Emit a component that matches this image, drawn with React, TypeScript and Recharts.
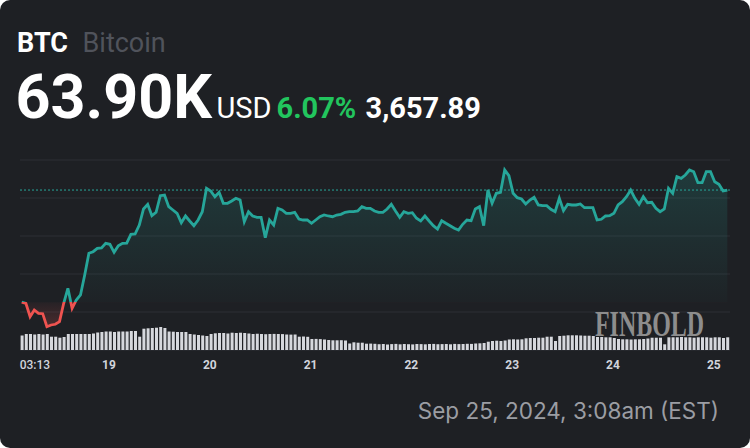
import { ComposedChart, Area, Bar, XAxis, YAxis, CartesianGrid, ReferenceLine } from 'recharts';

// hourly BTC/USD, Sep 18 03:13 -> Sep 25 03:08
const prices = [
  60242, 60204, 59767, 59985, 59878, 59865, 59441, 59496, 59519, 59604,
  60204, 60694, 60041, 60312, 60475, 61128, 61836, 61888, 61999, 62010,
  62162, 62129, 61868, 62084, 62162, 62170, 62456, 62465, 62759, 63281,
  63434, 63063, 63173, 63715, 63738, 63356, 63248, 63141, 62834, 63053,
  62890, 62736, 62922, 63193, 63957, 63868, 63682, 63826, 63467, 63467,
  63542, 63630, 63575, 62867, 63193, 63053, 63010, 63010, 62345, 62922,
  62759, 63304, 63248, 63141, 63141, 63173, 62955, 62922, 62922, 62814,
  62922, 63030, 63085, 63053, 63030, 63085, 63108, 63173, 63193, 63193,
  63216, 63356, 63304, 63304, 63216, 63173, 63173, 63281, 63434, 63216,
  63010, 63193, 63141, 63160, 62978, 62890, 63053, 62890, 62736, 62629,
  62899, 62814, 62736, 62651, 62596, 62782, 62922, 62899, 63281, 63356,
  62736, 63901, 63467, 63793, 63826, 64554, 64368, 63793, 63650, 63607,
  63444, 63575, 63663, 63412, 63389, 63389, 63271, 63193, 63630, 63226,
  63434, 63412, 63412, 63444, 63324, 63324, 63324, 62922, 62945, 63053,
  63063, 63141, 63412, 63519, 63682, 63901, 63630, 63434, 63682, 63487,
  63500, 63304, 63193, 63281, 63957, 63793, 64335, 64283, 64391, 64554,
  64498, 64139, 64139, 64498, 64498, 64172, 64087, 63868, 63900,
];

const volumes = [
  580, 640, 640, 620, 640, 620, 640, 532, 532, 492,
  520, 640, 640, 640, 640, 640, 640, 660, 700, 720,
  740, 740, 720, 740, 740, 740, 760, 760, 532, 852,
  868, 880, 892, 920, 880, 740, 732, 720, 720, 720,
  640, 620, 600, 580, 560, 640, 668, 680, 680, 660,
  692, 680, 692, 680, 660, 640, 648, 640, 632, 640,
  644, 640, 636, 620, 616, 620, 532, 540, 528, 440,
  444, 436, 420, 400, 388, 388, 392, 380, 260, 308,
  292, 292, 252, 256, 248, 232, 240, 220, 236, 244,
  228, 240, 232, 224, 240, 236, 228, 240, 244, 232,
  236, 240, 228, 244, 236, 240, 248, 244, 260, 268,
  280, 332, 360, 372, 360, 380, 420, 428, 420, 428,
  468, 480, 480, 492, 492, 532, 532, 360, 560, 572,
  588, 588, 588, 580, 572, 572, 560, 520, 520, 508,
  508, 480, 440, 428, 428, 420, 428, 428, 440, 460,
  492, 492, 492, 228, 508, 508, 508, 520, 508, 508,
  492, 508, 508, 508, 492, 508, 508, 480, 508,
];

const dayTicks = [0, 20.78, 44.78, 68.78, 92.78, 116.78, 140.78, 164.78];
const dayLabels = ['03:13', '19', '20', '21', '22', '23', '24', '25'];
const gridPrices = [59920, 61160, 62400, 63640, 64880];

const openPrice = 60242;
const lastPrice = 63900;
const symbol = 'BTC';
const coinName = 'Bitcoin';
const priceLabel = '63.90K';
const currency = 'USD';
const changePct = '6.07%';
const changeAbs = '3,657.89';
const stamp = 'Sep 25, 2024, 3:08am (EST)';
const watermark = 'FINBOLD';

const data = prices.map((p, i) => ({ t: i, price: p, vol: volumes[i] }));

const UP = '#26a69a';
const DOWN = '#ef5350';
const BG = '#1e2024';

const maxP = Math.max(...prices);
const minP = Math.min(...prices);
const split = (maxP - openPrice) / (maxP - minP);

function DayTick({ x, y, payload }: any) {
  const idx = dayTicks.indexOf(payload.value);
  const first = idx === 0;
  return (
    <text
      x={first ? x - 2 : x}
      y={y}
      dy={10.5}
      textAnchor={first ? 'start' : 'middle'}
      fill="#d1d4dc"
      fontSize={12}
      fontWeight={first ? 500 : 700}
      fontFamily="Roboto"
    >
      {dayLabels[idx]}
    </text>
  );
}

const txt = (extra: any) => ({
  position: 'absolute' as const,
  lineHeight: 1,
  fontFamily: 'Roboto',
  whiteSpace: 'nowrap' as const,
  ...extra,
});

export default function App() {
  return (
    <div style={{ position: 'absolute', top: 0, left: 0, width: 750, height: 448, background: '#fff' }}>
      <div style={{ position: 'absolute', inset: 0, background: BG, borderRadius: 10, overflow: 'hidden' }}>
        <span style={txt({ left: 17, top: 30, fontSize: 27, fontWeight: 700, color: '#fff' })}>{symbol}</span>
        <span style={txt({ left: 82.5, top: 30, fontSize: 27, fontWeight: 400, color: '#50535b' })}>{coinName}</span>
        <span style={txt({ left: 15.5, top: 66.6, fontSize: 61, fontWeight: 700, color: '#fff' })}>{priceLabel}</span>
        <span style={txt({ left: 216.5, top: 93.6, fontSize: 29, fontWeight: 400, color: '#fff' })}>{currency}</span>
        <span style={txt({ left: 276.5, top: 93.6, fontSize: 29, fontWeight: 700, color: '#22c55e' })}>{changePct}</span>
        <span style={txt({ left: 365.5, top: 93.6, fontSize: 29, fontWeight: 700, color: '#fff' })}>{changeAbs}</span>

        <div style={{ position: 'absolute', top: 0, left: 0 }}>
          <ComposedChart width={750} height={380} data={data} margin={{ top: 160, right: 20, bottom: 0, left: 20 }}>
            <defs>
              <linearGradient id="lineGrad" x1="0" y1="0" x2="0" y2="1">
                <stop offset={0} stopColor={UP} />
                <stop offset={split} stopColor={UP} />
                <stop offset={split} stopColor={DOWN} />
                <stop offset={1} stopColor={DOWN} />
              </linearGradient>
              <linearGradient id="fillGrad" x1="0" y1="0" x2="0" y2="1">
                <stop offset={0} stopColor={UP} stopOpacity={0.2} />
                <stop offset={split} stopColor={UP} stopOpacity={0.02} />
                <stop offset={split} stopColor={DOWN} stopOpacity={0.04} />
                <stop offset={1} stopColor={DOWN} stopOpacity={0.22} />
              </linearGradient>
            </defs>
            <CartesianGrid yAxisId="price" vertical={false} stroke="#2c2f35" strokeWidth={1} />
            <XAxis
              dataKey="t"
              type="number"
              domain={[0, 168]}
              ticks={dayTicks}
              padding={{ left: 1.7, right: 2.7 }}
              axisLine={false}
              tickLine={false}
              tick={<DayTick />}
              height={30}
              interval={0}
            />
            <YAxis yAxisId="price" hide domain={[58680, 64880]} ticks={gridPrices} />
            <YAxis yAxisId="vol" hide domain={[0, 7600]} />
            <Bar yAxisId="vol" dataKey="vol" fill="#d6d8dd" barSize={3} isAnimationActive={false} />
            <ReferenceLine yAxisId="price" y={lastPrice} stroke={UP} strokeDasharray="2 2" strokeWidth={1} />
            <Area
              yAxisId="price"
              type="linear"
              dataKey="price"
              baseValue={openPrice}
              stroke="url(#lineGrad)"
              strokeWidth={2.8}
              fill="url(#fillGrad)"
              fillOpacity={1}
              dot={false}
              activeDot={false}
              isAnimationActive={false}
            />
          </ComposedChart>
        </div>

        <svg style={{ position: 'absolute', left: 0, top: 0 }} width={750} height={448} pointerEvents="none">
          <text
            transform="translate(595 336) scale(0.665 1)"
            fontFamily="Liberation Serif"
            fontWeight={700}
            fontSize={36}
            fill="#8d8d8d"
          >
            {watermark}
          </text>
        </svg>

        <span style={txt({ right: 31, top: 400, fontSize: 22.5, fontWeight: 400, fontFamily: 'Inter', color: '#9b9da3' })}>{stamp}</span>
      </div>
    </div>
  );
}
